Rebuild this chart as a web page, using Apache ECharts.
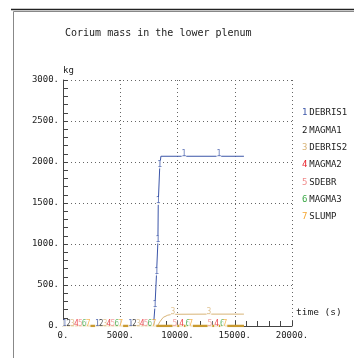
<!DOCTYPE html>
<html>
<head>
<meta charset="utf-8">
<script src="https://cdn.jsdelivr.net/npm/echarts@6/dist/echarts.min.js"></script>
<style>html,body{margin:0;padding:0;background:#fff}#c{width:354px;height:358px}</style>
</head>
<body>
<div id="c"></div>
<script>
const titleText = 'Corium mass in the lower plenum';
const yUnit = 'kg';
const xName = 'time (s)';
const seriesNames = ['DEBRIS1', 'MAGMA1', 'DEBRIS2', 'MAGMA2', 'SDEBR', 'MAGMA3', 'SLUMP'];
const seriesNumbers = ['1', '2', '3', '4', '5', '6', '7'];
const numberColors = ['#3b55a8', '#111111', '#d8b477', '#e8202a', '#f08a8a', '#3aa845', '#f5a733'];
const lineColors = ['#3b55a8', '#111111', '#d8b477', '#e8202a', '#f08a8a', '#3aa845', '#c99a30'];
const lineWidths = [1, 1, 1, 1, 1, 1, 2.5];

// time (s) and mass (kg) for each series; marked = indices carrying the series number marker
const debris1Time = [0, 150, 3000, 5900, 7900, 8030, 8170, 8290, 8320, 8450, 8550, 10560, 13610, 15800];
const debris1Mass = [0, 0, 0, 0, 0, 235, 640, 1030, 1500, 1945, 2070, 2070, 2070, 2070];
const debris1Marked = [1, 2, 3, 5, 6, 7, 8, 9, 11, 12];

const magma1Time = [0, 490, 3340, 6240, 15800];
const magma1Mass = [0, 0, 0, 0, 0];
const magma1Marked = [1, 2, 3];

const debris2Time = [0, 830, 3680, 6580, 8250, 8450, 8750, 9150, 9600, 12740, 15800];
const debris2Mass = [0, 0, 0, 0, 0, 50, 105, 132, 143, 145, 145];
const debris2Marked = [1, 2, 3, 8, 9];

const magma2Time = [0, 1170, 4020, 6920, 10360, 13410, 15800];
const magma2Mass = [0, 0, 0, 0, 0, 0, 0];
const magma2Marked = [1, 2, 3, 4, 5];

const sdebrTime = [0, 1510, 4360, 7260, 9770, 12830, 15800];
const sdebrMass = [0, 0, 0, 0, 0, 0, 0];
const sdebrMarked = [1, 2, 3, 4, 5];

const magma3Time = [0, 1850, 4700, 7600, 10900, 13930, 15800];
const magma3Mass = [0, 0, 0, 0, 0, 0, 0];
const magma3Marked = [1, 2, 3, 4, 5];

const slumpTime = [0, 2190, 5040, 7940, 11140, 14140, 15800];
const slumpMass = [0, 0, 0, 0, 0, 0, 0];
const slumpMarked = [1, 2, 3, 4, 5];

const xTicks = [0, 5000, 10000, 15000, 20000];
const yTicks = [0, 500, 1000, 1500, 2000, 2500, 3000];

const allTimes = [debris1Time, magma1Time, debris2Time, magma2Time, sdebrTime, magma3Time, slumpTime];
const allMass = [debris1Mass, magma1Mass, debris2Mass, magma2Mass, sdebrMass, magma3Mass, slumpMass];
const allMarked = [debris1Marked, magma1Marked, debris2Marked, magma2Marked, sdebrMarked, magma3Marked, slumpMarked];

const FONT = 'DejaVu Sans Mono';

const lineSeries = seriesNames.map((name, s) => ({
  name: name,
  type: 'line',
  showSymbol: false,
  animation: false,
  silent: true,
  color: numberColors[s],
  lineStyle: { color: lineColors[s], width: lineWidths[s] },
  z: 2 + s,
  data: allTimes[s].map((t, i) => [t, allMass[s][i]])
}));

// the series number markers, placed on the marked points of each series
const markerSeries = seriesNames.map((name, s) => ({
  name: name,
  type: 'scatter',
  symbol: 'rect',
  symbolSize: 1,
  animation: false,
  silent: true,
  z: 20,
  itemStyle: { color: 'rgba(255,255,255,0)' },
  label: {
    show: true,
    position: 'inside',
    formatter: seriesNumbers[s],
    color: numberColors[s],
    fontFamily: FONT,
    fontSize: 8,
    lineHeight: 8,
    backgroundColor: '#fff',
    padding: [0, 0, 0, 0],
    offset: [0, -2]
  },
  data: allMarked[s].map((i) => [allTimes[s][i], allMass[s][i]])
}));

const rich = {
  t: { color: '#222', fontFamily: FONT, fontSize: 9 },
  s: { fontFamily: FONT, fontSize: 3 }
};
seriesNumbers.forEach((n, s) => {
  rich['n' + s] = { color: numberColors[s], fontFamily: FONT, fontSize: 9 };
});

const chart = echarts.init(document.getElementById('c'), null, { renderer: 'canvas' });
chart.setOption({
  animation: false,
  backgroundColor: '#fff',
  title: {
    text: titleText,
    left: 60,
    top: 23,
    textStyle: { fontFamily: FONT, fontSize: 10, fontWeight: 'normal', color: '#222' }
  },
  legend: {
    orient: 'vertical',
    left: 292,
    top: 103,
    icon: 'none',
    itemWidth: 0,
    itemHeight: 10,
    itemGap: 7.8,
    selectedMode: false,
    data: seriesNames,
    formatter: (name) => {
      const s = seriesNames.indexOf(name);
      return '{n' + s + '|' + seriesNumbers[s] + '}{s| }{t|' + name + '}';
    },
    textStyle: { rich: rich, fontFamily: FONT, fontSize: 9 }
  },
  grid: { left: 63, right: 62, top: 80, bottom: 32, containLabel: false },
  xAxis: {
    type: 'value',
    min: xTicks[0],
    max: xTicks[xTicks.length - 1],
    interval: xTicks[1] - xTicks[0],
    name: xName,
    nameLocation: 'end',
    nameGap: 4,
    nameTextStyle: { fontFamily: FONT, fontSize: 9.5, color: '#222', align: 'left', verticalAlign: 'bottom', padding: [0, 0, 8, 0] },
    axisLine: { show: true, lineStyle: { color: '#444', width: 1 } },
    axisTick: { show: true, inside: true, length: 5, lineStyle: { color: '#444' } },
    minorTick: { show: true, splitNumber: 5, length: 5, lineStyle: { color: '#444' } },
    axisLabel: { formatter: (v) => v + '.', fontFamily: FONT, fontSize: 9, color: '#222', margin: 5 },
    splitLine: { show: true, lineStyle: { color: '#666', width: 1, type: [1, 3] } }
  },
  yAxis: {
    type: 'value',
    min: yTicks[0],
    max: yTicks[yTicks.length - 1],
    interval: yTicks[1] - yTicks[0],
    name: yUnit,
    nameLocation: 'end',
    nameGap: 5,
    nameTextStyle: { fontFamily: FONT, fontSize: 9, color: '#222', align: 'left' },
    axisLine: { show: true, lineStyle: { color: '#444', width: 1 } },
    axisTick: { show: true, inside: true, length: 5, lineStyle: { color: '#444' } },
    minorTick: { show: true, splitNumber: 5, length: 5, lineStyle: { color: '#444' } },
    axisLabel: { formatter: (v) => v + '.', fontFamily: FONT, fontSize: 9, color: '#222', margin: 4 },
    splitLine: { show: true, lineStyle: { color: '#666', width: 1, type: [1, 3] } }
  },
  graphic: [
    { type: 'rect', left: 11, top: 9, silent: true, shape: { x: 0, y: 0, width: 400, height: 400 }, style: { fill: 'none', stroke: '#888', lineWidth: 1 } },
    { type: 'line', silent: true, shape: { x1: 11, y1: 9.5, x2: 354, y2: 9.5 }, style: { stroke: '#222', lineWidth: 1.5 } }
  ],
  series: lineSeries.concat(markerSeries)
});
</script>
</body>
</html>
